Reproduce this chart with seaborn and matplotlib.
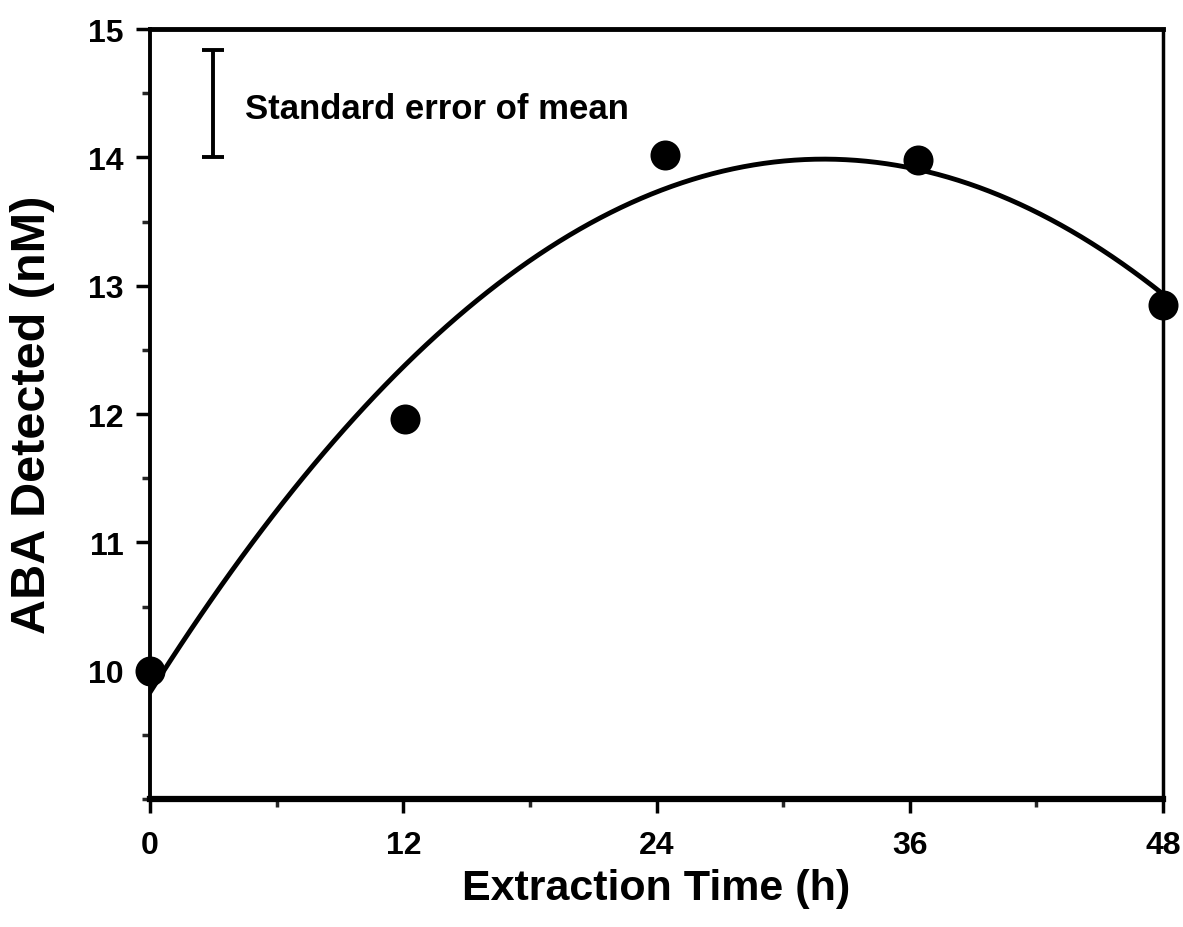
import numpy as np
import pandas as pd
import seaborn as sns
import matplotlib.pyplot as plt
from matplotlib.ticker import MultipleLocator

sns.set_style("ticks")
plt.rcParams["font.family"] = ["Liberation Sans", "DejaVu Sans"]

# valores
tempo = [0, 12.1, 24.4, 36.4, 48]
aba = [10.0, 11.96, 14.02, 13.98, 12.85]

# barra do erro padrão (legenda)
sem_x = 3.0
sem_centro = 14.42
sem_meio = 0.42

df = pd.DataFrame({"tempo": tempo, "aba": aba})

fig = plt.figure(figsize=(11.83, 9.28), dpi=100)
ax = fig.add_axes([0.1268, 0.1379, 0.8563, 0.8297])

# curva ajustada (polinômio de 2ª ordem) e pontos
sns.regplot(data=df, x="tempo", y="aba", order=2, ci=None, scatter=False,
            color="black", line_kws={"linewidth": 3.5}, ax=ax)
sns.scatterplot(data=df, x="tempo", y="aba", s=400, color="black",
                edgecolor="black", zorder=5, clip_on=False, ax=ax)

ax.errorbar(sem_x, sem_centro, yerr=sem_meio, color="black", capsize=8,
            elinewidth=2.8, capthick=2.8)
ax.text(4.5, sem_centro - 0.04, "Standard error of mean", fontsize=25,
        fontweight="bold", va="center", ha="left", color="black")

ax.set_xlim(0, 48)
ax.set_ylim(9, 15)
ax.xaxis.set_major_locator(MultipleLocator(12))
ax.xaxis.set_minor_locator(MultipleLocator(6))
ax.yaxis.set_minor_locator(MultipleLocator(0.5))
ax.set_yticks([10, 11, 12, 13, 14, 15])

ax.tick_params(which="major", direction="out", length=10, width=2.5,
               labelsize=23, colors="black")
ax.tick_params(which="minor", direction="out", length=6, width=2.5)
ax.tick_params(axis="x", which="major", pad=12)
ax.tick_params(axis="y", which="major", pad=9)
for lab in ax.get_xticklabels() + ax.get_yticklabels():
    lab.set_fontweight("bold")

for lado, w in [("bottom", 4.5), ("top", 3.5), ("left", 2.8), ("right", 2.5)]:
    ax.spines[lado].set_linewidth(w)
    ax.spines[lado].set_color("black")

ax.set_xlabel("Extraction Time (h)", fontsize=31, fontweight="bold",
              labelpad=6, color="black")
ax.set_ylabel("ABA Detected (nM)", fontsize=35, fontweight="bold",
              labelpad=24, color="black")

fig.savefig("out.png", dpi=100)
